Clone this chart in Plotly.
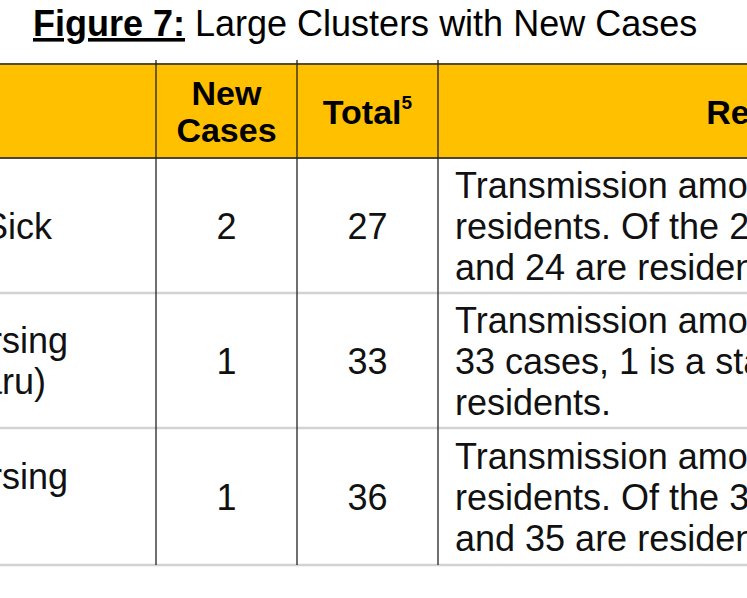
import plotly.graph_objects as go

####################################################################
# DATA
####################################################################

title_lead = "Figure 7:"
title_rest = "Large Clusters with New Cases"

headers = [
    [],
    ["New", "Cases"],
    ["Total<sup><span style='font-size:19px'>5</span></sup>"],
    ["Remarks"]
]

clusters = [
    ["of Sick"],
    ["Nursing", "(Haru)"],
    ["Nursing", "(S)"]
]

new_cases = [2, 1, 1]

totals = [27, 33, 36]

remarks = [
    ["Transmission among staff and",
     "residents. Of the 27 cases, 3 are staff",
     "and 24 are residents."],
    ["Transmission among staff and residents. Of the",
     "33 cases, 1 is a staff and 32 are",
     "residents."],
    ["Transmission among staff and",
     "residents. Of the 36 cases, 1 is a staff",
     "and 35 are residents."]
]

####################################################################
# GEOMETRY / STYLE
####################################################################

W, H = 747, 598
COL_EDGES = [-67, 156, 297, 438, 1118]
ROW_EDGES = [64, 158, 293, 428, 565]
LINE_H = 41
HEAD_LINE_H = 37
TEXT_DY = 4
FONT = "Arial, Liberation Sans, sans-serif"
GOLD = "#FFC000"


def line_positions(lines, center, step):
    n = len(lines)
    return [center + TEXT_DY + (i - (n - 1) / 2) * step for i in range(n)]


def col_center(i):
    return (COL_EDGES[i] + COL_EDGES[i + 1]) / 2


def row_center(i):
    return (ROW_EDGES[i] + ROW_EDGES[i + 1]) / 2


fig = go.Figure()

####################################################################
# SHAPES
####################################################################

fig.add_shape(
    type="rect",
    x0=COL_EDGES[0] - 50, x1=COL_EDGES[-1],
    y0=ROW_EDGES[0], y1=ROW_EDGES[1],
    fillcolor=GOLD,
    line_width=0,
    layer="below"
)

fig.add_shape(
    type="line",
    x0=COL_EDGES[0] - 50, x1=COL_EDGES[-1],
    y0=ROW_EDGES[0], y1=ROW_EDGES[0],
    line=dict(color="#574a26", width=2)
)

fig.add_shape(
    type="line",
    x0=COL_EDGES[0] - 50, x1=COL_EDGES[-1],
    y0=ROW_EDGES[1], y1=ROW_EDGES[1],
    line=dict(color="#4a4430", width=2)
)

for y in ROW_EDGES[2:]:
    fig.add_shape(
        type="line",
        x0=COL_EDGES[0] - 50, x1=COL_EDGES[-1],
        y0=y, y1=y,
        line=dict(color="#d2d2d2", width=2.5)
    )

for x in COL_EDGES[1:-1]:
    fig.add_shape(
        type="line",
        x0=x, x1=x,
        y0=ROW_EDGES[0] - 4, y1=ROW_EDGES[-1],
        line=dict(color="#222222", width=1.3)
    )

####################################################################
# TEXT
####################################################################

# title
fig.add_trace(
    go.Scatter(
        x=[33], y=[23 + TEXT_DY],
        mode="text",
        text=[
            f"<span style='text-decoration:underline'><b>{title_lead}</b></span> {title_rest}"
        ],
        textposition="middle right",
        textfont=dict(family=FONT, size=36, color="#000000"),
        hoverinfo="skip"
    )
)

# header
hx, hy, ht = [], [], []
for i, lines in enumerate(headers):
    for y, t in zip(line_positions(lines, row_center(0), HEAD_LINE_H), lines):
        hx.append(col_center(i))
        hy.append(y)
        ht.append(f"<b>{t}</b>")

fig.add_trace(
    go.Scatter(
        x=hx, y=hy, text=ht,
        mode="text",
        textposition="middle center",
        textfont=dict(family=FONT, size=34, color="#000000"),
        hoverinfo="skip"
    )
)

# cluster names
nx, ny, nt = [], [], []
for r, lines in enumerate(clusters):
    for y, t in zip(line_positions(lines, row_center(r + 1), LINE_H), lines):
        nx.append(COL_EDGES[0] + 11)
        ny.append(y)
        nt.append(t)

# remarks
rx, ry, rt = [], [], []
for r, lines in enumerate(remarks):
    for y, t in zip(line_positions(lines, row_center(r + 1), LINE_H), lines):
        rx.append(COL_EDGES[3] + 17)
        ry.append(y)
        rt.append(t)

fig.add_trace(
    go.Scatter(
        x=nx + rx, y=ny + ry, text=nt + rt,
        mode="text",
        textposition="middle right",
        textfont=dict(family=FONT, size=36, color="#111111"),
        hoverinfo="skip"
    )
)

# numbers
vx, vy, vt = [], [], []
for r in range(len(new_cases)):
    vx += [col_center(1), col_center(2)]
    vy += [row_center(r + 1) + TEXT_DY] * 2
    vt += [str(new_cases[r]), str(totals[r])]

fig.add_trace(
    go.Scatter(
        x=vx, y=vy, text=vt,
        mode="text",
        textposition="middle center",
        textfont=dict(family=FONT, size=36, color="#111111"),
        hoverinfo="skip"
    )
)

####################################################################
# LAYOUT
####################################################################

fig.update_layout(
    width=W,
    height=H,
    autosize=False,
    margin=dict(l=0, r=0, t=0, b=0),
    paper_bgcolor="white",
    plot_bgcolor="white",
    showlegend=False,
    xaxis=dict(range=[0, W], visible=False, fixedrange=True),
    yaxis=dict(range=[H, 0], visible=False, fixedrange=True)
)

fig.write_html(
    "out.html",
    config=dict(displayModeBar=False, staticPlot=True),
    post_script="document.body.style.margin='0';document.body.style.overflow='hidden';"
)
